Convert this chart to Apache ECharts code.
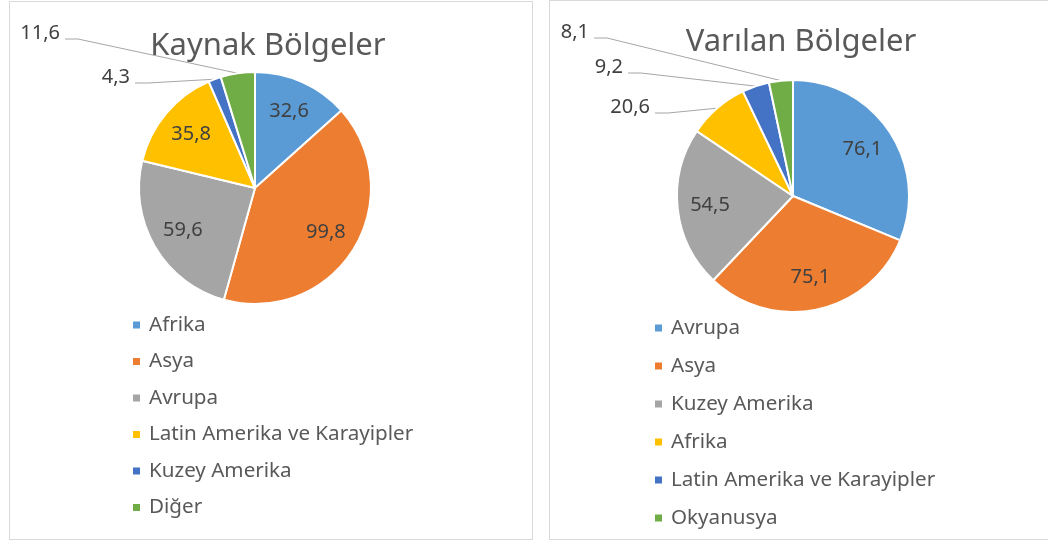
<!DOCTYPE html>
<html>
<head>
<meta charset="utf-8">
<script src="https://cdn.jsdelivr.net/npm/echarts@6/dist/echarts.min.js"></script>
<style>
  body { margin: 0; background: #fff; }
  .panel { position: absolute; border: 1px solid #d9d9d9; background: #fff; }
  .chart { width: 100%; height: 100%; }
</style>
</head>
<body>
<div class="panel" style="left:9px;top:1px;width:522px;height:537px;"><div class="chart" id="kaynak"></div></div>
<div class="panel" style="left:549px;top:0px;width:510px;height:538px;"><div class="chart" id="varilan"></div></div>
<script>
// Kaynak bölgeler
const kaynakAdlar = ["Afrika", "Asya", "Avrupa", "Latin Amerika ve Karayipler", "Kuzey Amerika", "Diğer"];
const kaynakDegerler = [32.6, 99.8, 59.6, 35.8, 4.3, 11.6];
// Varılan bölgeler
const varilanAdlar = ["Avrupa", "Asya", "Kuzey Amerika", "Afrika", "Latin Amerika ve Karayipler", "Okyanusya"];
const varilanDegerler = [76.1, 75.1, 54.5, 20.6, 9.2, 8.1];

const renkler = ["#5B9BD5", "#ED7D31", "#A5A5A5", "#FFC000", "#4472C4", "#70AD47"];
const yazi = "'Noto Sans', sans-serif";

function sayi(v) {
  return v.toFixed(1).replace(".", ",");
}

// cfg: merkez, yarıçap, başlık, dış etiket yerleri
function ciz(domId, baslik, adlar, degerler, cfg) {
  let myChart = echarts.init(document.getElementById(domId));
  let veri = adlar.map(function (ad, i) {
    let item = { name: ad, value: degerler[i] };
    if (cfg.disarida[i]) {
      item.label = { position: "outside" };
      item.labelLine = { show: true };
    }
    return item;
  });
  myChart.setOption({
    animation: false,
    color: renkler,
    title: {
      text: baslik,
      left: cfg.baslikX,
      top: cfg.baslikY,
      textAlign: "center",
      textStyle: { fontFamily: yazi, fontSize: 31, fontWeight: "normal", color: "#595959" },
    },
    legend: {
      orient: "vertical",
      left: cfg.legendX,
      top: cfg.legendY,
      icon: "rect",
      itemWidth: 9,
      itemHeight: 9,
      itemGap: cfg.legendGap,
      data: adlar,
      textStyle: {
        fontFamily: yazi,
        fontSize: 20.6,
        lineHeight: 22,
        color: "#595959",
        padding: [0, 0, 0, 3],
      },
    },
    series: [
      {
        type: "pie",
        center: cfg.merkez,
        radius: cfg.yaricap,
        startAngle: 90,
        avoidLabelOverlap: false,
        itemStyle: { borderColor: "#fff", borderWidth: 2 },
        label: {
          show: true,
          position: "inside",
          formatter: function (p) { return sayi(p.value); },
          fontFamily: yazi,
          fontSize: 20,
          color: "#404040",
        },
        labelLine: {
          show: false,
          lineStyle: { color: "#A6A6A6", width: 1 },
        },
        labelLayout: function (params) {
          let dis = cfg.disarida[params.dataIndex];
          if (dis) {
            let anchor = params.labelLinePoints ? params.labelLinePoints[0] : [dis.x, dis.y];
            return {
              x: dis.x,
              y: dis.y,
              align: "right",
              verticalAlign: "middle",
              labelLinePoints: [anchor, [dis.x + 18, dis.y + 6], [dis.x + 5, dis.y + 6]],
            };
          }
          // iç etiketler merkezden yarıçapın ~%72'si uzakta
          let r = params.labelRect;
          let lx = r.x + r.width / 2 - cfg.merkez[0];
          let ly = r.y + r.height / 2 - cfg.merkez[1];
          let d = Math.sqrt(lx * lx + ly * ly) || 1;
          let hedef = cfg.yaricap * 0.72;
          return {
            x: cfg.merkez[0] + (lx / d) * hedef,
            y: cfg.merkez[1] + (ly / d) * hedef,
            align: "center",
            verticalAlign: "middle",
          };
        },
        data: veri,
      },
    ],
  });
  return myChart;
}

ciz("kaynak", "Kaynak Bölgeler", kaynakAdlar, kaynakDegerler, {
  merkez: [245, 186],
  yaricap: 116,
  baslikX: 253,
  baslikY: 24,
  legendX: 116,
  legendY: 307,
  legendGap: 14.5,
  disarida: { 4: { x: 120, y: 75 }, 5: { x: 50, y: 31 } },
});

ciz("varilan", "Varılan Bölgeler", varilanAdlar, varilanDegerler, {
  merkez: [243, 195],
  yaricap: 116,
  baslikX: 246,
  baslikY: 21,
  legendX: 98,
  legendY: 311,
  legendGap: 16,
  disarida: { 3: { x: 100, y: 106 }, 4: { x: 73, y: 66 }, 5: { x: 39, y: 31 } },
});
</script>
</body>
</html>
